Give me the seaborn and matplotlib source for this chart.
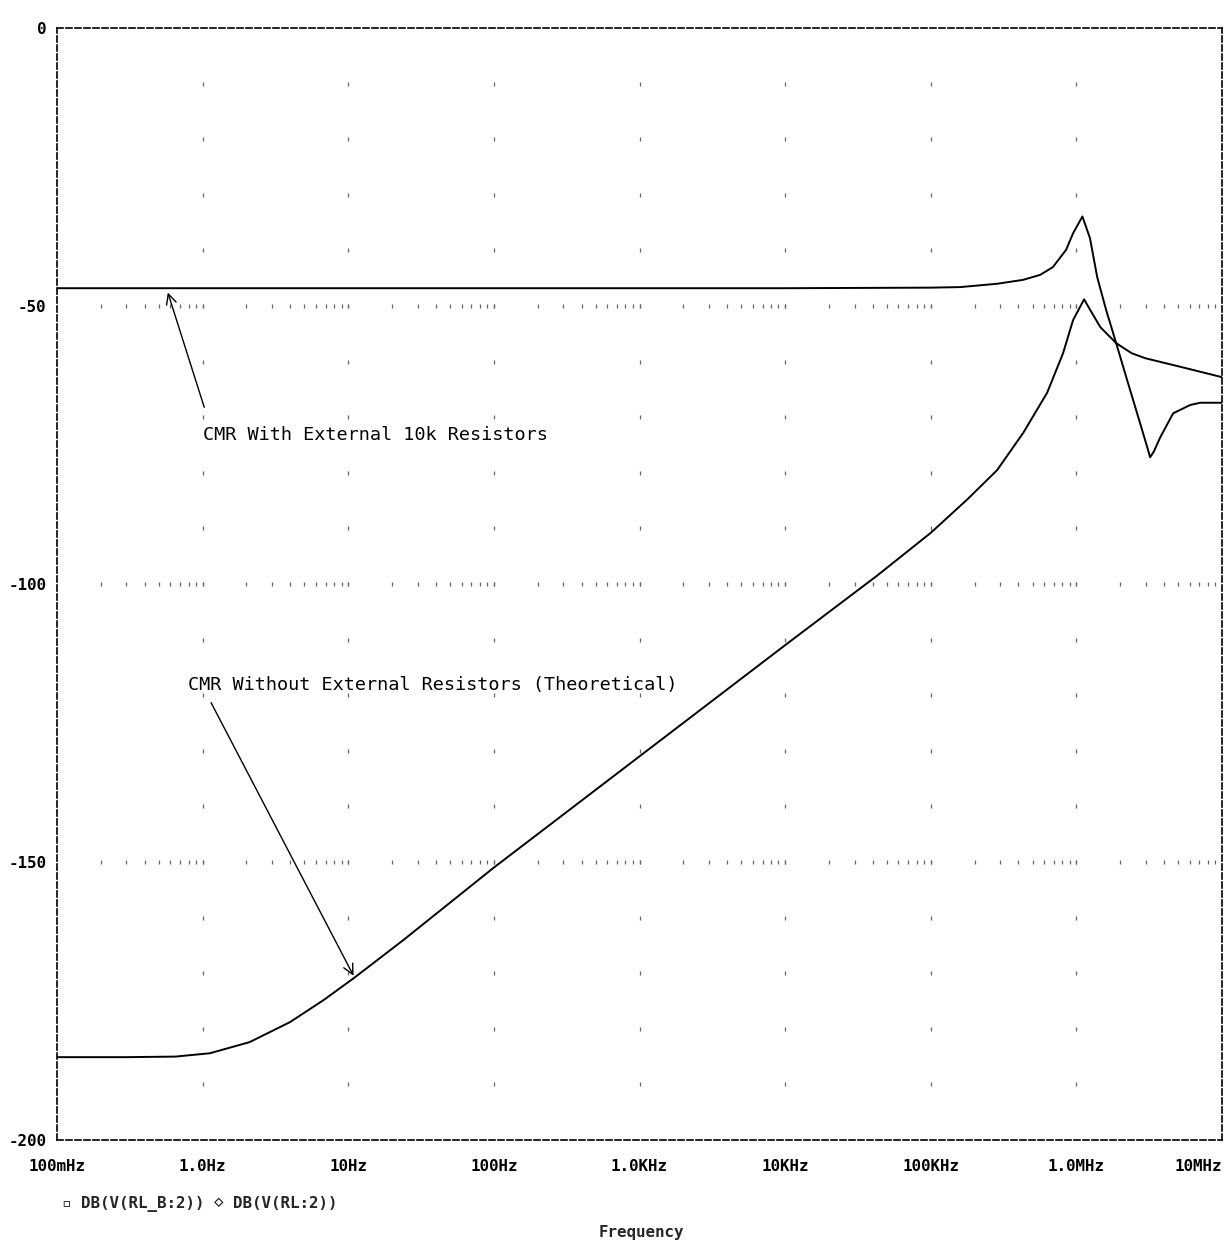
import numpy as np
import pandas as pd
import matplotlib
matplotlib.use("Agg")
import matplotlib.pyplot as plt
import seaborn as sns

# ---- data ----
freq_with = [0.1, 1.0, 10, 100, 1e3, 1e4, 1e5, 1.59e5, 2.86e5, 4.3e5, 5.64e5, 6.9e5,
             8.5e5, 9.5e5, 1.10e6, 1.24e6, 1.39e6, 1.6e6, 1.79e6,
             2.23e6, 2.74e6, 3.05e6, 3.21e6, 3.4e6, 3.77e6, 4.62e6, 6.05e6, 7.08e6, 1e7]
db_with = [-46.8, -46.8, -46.8, -46.8, -46.8, -46.8, -46.7, -46.6, -46.0, -45.3, -44.4, -43.0,
           -39.9, -36.9, -33.9, -37.8, -44.8, -50.7, -54.9,
           -63.3, -71.1, -75.2, -77.2, -76.2, -73.6, -69.3, -67.8, -67.4, -67.4]

freq_without = [0.1, 0.3, 0.65, 1.12, 2.1, 3.98, 6.8, 10.9, 24, 100, 1e3, 1e4, 4.28e4, 1e5,
                1.78e5, 2.86e5, 4.32e5, 6.3e5, 8.1e5, 9.5e5, 1.13e6, 1.25e6, 1.46e6,
                1.88e6, 2.4e6, 2.98e6, 5.3e6, 1e7]
db_without = [-185.1, -185.1, -185.0, -184.4, -182.4, -178.8, -174.8, -170.9, -164.0, -151.0,
              -131.0, -111.0, -98.5, -90.8,
              -84.8, -79.5, -72.8, -65.6, -58.5, -52.5, -48.8, -50.8, -53.8,
              -56.7, -58.5, -59.4, -61.0, -62.8]

x_ticks = [0.1, 1, 10, 100, 1e3, 1e4, 1e5, 1e6, 1e7]
x_tick_labels = ["100mHz", "1.0Hz", "10Hz", "100Hz", "1.0KHz", "10KHz", "100KHz", "1.0MHz", "10MHz"]
y_ticks = [0, -50, -100, -150, -200]
y_tick_labels = ["0", "-50", "-100", "-150", "-200"]

label_with = "CMR With External 10k Resistors"
label_without = "CMR Without External Resistors (Theoretical)"
legend_text = "\u25ab DB(V(RL_B:2)) \u22c4 DB(V(RL:2))"
x_label = "Frequency"

# ---- style ----
sns.set_style("white")
plt.rcParams["font.family"] = ["DejaVu Sans Mono", "DejaVu Sans"]

W, H = 1231, 1247
fig = plt.figure(figsize=(W / 100, H / 100), dpi=100)
ax = fig.add_axes([57 / W, 1 - 1140 / H, (1222 - 57) / W, (1140 - 28) / H])

df1 = pd.DataFrame({"f": freq_with, "db": db_with})
df2 = pd.DataFrame({"f": freq_without, "db": db_without})
sns.lineplot(data=df1, x="f", y="db", ax=ax, color="black", lw=1.4, sort=False, estimator=None)
sns.lineplot(data=df2, x="f", y="db", ax=ax, color="black", lw=1.4, sort=False, estimator=None)

ax.set_xscale("log")
ax.set_xlim(0.1, 1e7)
ax.set_ylim(-200, 0)

# dotted grid (PSpice-like)
decades = [1, 10, 100, 1e3, 1e4, 1e5, 1e6]
gx, gy = [], []
for d in decades:
    for v in range(-10, -200, -10):
        gx.append(d)
        gy.append(v)
for h in [-50, -100, -150]:
    for e in range(-1, 7):
        for k in range(1, 10):
            xv = k * 10.0 ** e
            if xv > 0.1:
                gx.append(xv)
                gy.append(h)
ax.plot(gx, gy, linestyle="none", marker="|", ms=3, mew=0.9, color="#666666", zorder=1)

# axes frame
for sp in ax.spines.values():
    sp.set_visible(True)
    sp.set_color("black")
    sp.set_linewidth(1.2)
    sp.set_linestyle((0, (3.6, 1.8)))

ax.set_xticks(x_ticks)
ax.set_xticklabels(x_tick_labels, fontsize=11.4, fontweight="bold")
ax.xaxis.set_minor_locator(matplotlib.ticker.NullLocator())
ax.set_yticks(y_ticks)
ax.set_yticklabels(y_tick_labels, fontsize=11.4, fontweight="bold")
ax.tick_params(axis="both", direction="inout", length=7, width=1, colors="black", pad=4)
ax.tick_params(axis="x", pad=10)
tl = ax.get_xticklabels()
tl[-1].set_horizontalalignment("right")
ax.set_xlabel("")
ax.set_ylabel("")

# annotations
ax.annotate("", xy=(0.569, -47.1), xytext=(1.04, -68.7),
            arrowprops=dict(arrowstyle="->", color="black", lw=1.0, mutation_scale=18))
ax.text(1.0, -73.2, label_with, fontsize=13.3, va="center", ha="left", color="black")

ax.annotate("", xy=(11.1, -170.9), xytext=(1.12, -120.9),
            arrowprops=dict(arrowstyle="->", color="black", lw=1.0, mutation_scale=18))
ax.text(0.79, -118.2, label_without, fontsize=13.3, va="center", ha="left", color="black")

fig.text(62 / W, 1 - 1204 / H, legend_text, fontsize=11.4, fontweight="bold",
         va="center", ha="left", family=["DejaVu Sans Mono", "DejaVu Sans"])
fig.text(641 / W, 1 - 1232 / H, x_label, fontsize=11.4, fontweight="bold",
         va="center", ha="center")

fig.savefig("out.png", dpi=100, facecolor="white")
